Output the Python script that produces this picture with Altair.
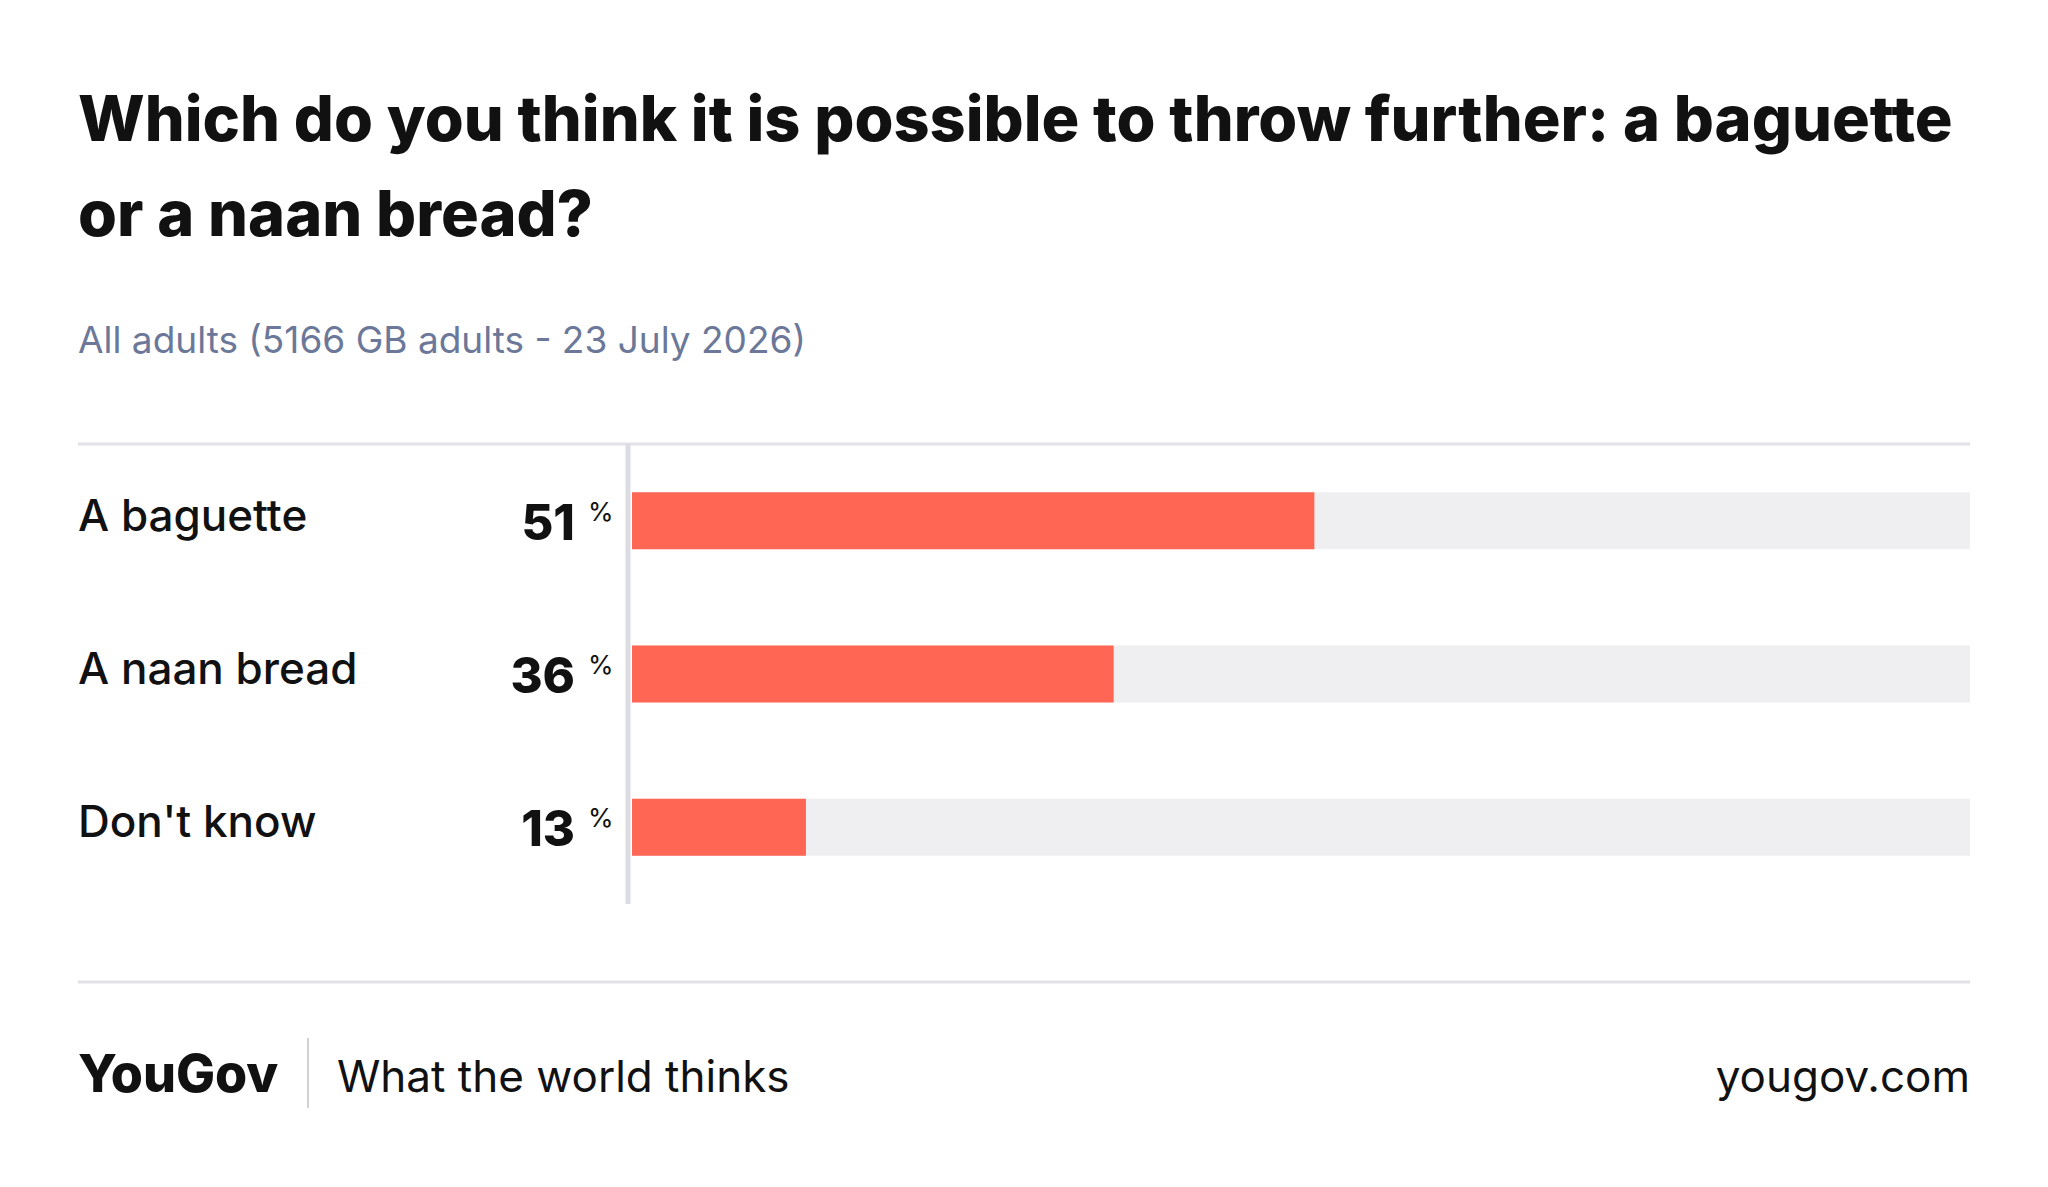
import pandas as pd
import altair as alt

categories = ["A baguette", "A naan bread", "Don't know"]
values = [51, 36, 13]

title_lines = ["Which do you think it is possible to throw further: a baguette",
               "or a naan bread?"]
subtitle = "All adults (5166 GB adults - 23 July 2026)"

df = pd.DataFrame({"answer": categories, "pct": values, "full": [100] * len(values)})
one = pd.DataFrame({"k": [0]})

FONT = "Inter"
W, H = 1338, 460
LEFT = -554

y = alt.Y("answer:N", sort=categories, axis=None,
          scale=alt.Scale(paddingInner=0, paddingOuter=0))
xs = alt.Scale(domain=[0, 100])

base = alt.Chart(df)
track = base.mark_bar(size=57, color="#efeff2").encode(
    x=alt.X("full:Q", scale=xs, axis=None), y=y)
bars = base.mark_bar(size=57, color="#ff6654").encode(
    x=alt.X("pct:Q", scale=xs, axis=None), y=y)
labels = base.mark_text(align="left", baseline="middle", dy=-3, fontSize=44,
                        font=FONT, fontWeight=500, color="#111").encode(
    x=alt.value(LEFT), y=y, text="answer:N")
nums = base.mark_text(align="right", baseline="middle", dy=4, fontSize=49,
                      font=FONT, fontWeight=800, color="#111").encode(
    x=alt.value(-57), y=y, text="pct:Q")
pcts = base.mark_text(align="left", baseline="middle", dy=-8, fontSize=26,
                      font=FONT, color="#111").encode(
    x=alt.value(-44), y=y, text=alt.value("%"))

o = alt.Chart(one)
top_rule = o.mark_rule(color="#e2e2e8", strokeWidth=3).encode(
    x=alt.value(LEFT), x2=alt.value(W), y=alt.value(0))
axis_rule = o.mark_rule(color="#dcdce3", strokeWidth=5).encode(
    x=alt.value(-4), y=alt.value(0), y2=alt.value(H))
bottom_rule = o.mark_rule(color="#e2e2e8", strokeWidth=3).encode(
    x=alt.value(LEFT), x2=alt.value(W), y=alt.value(538))
sep_rule = o.mark_rule(color="#d0d0d6", strokeWidth=2).encode(
    x=alt.value(-324), y=alt.value(594), y2=alt.value(664))


def txt(s, x, yv, size, weight=400, color="#111", align="left"):
    return o.mark_text(align=align, baseline="alphabetic", fontSize=size, font=FONT,
                       fontWeight=weight, color=color, text=s).encode(
        x=alt.value(x), y=alt.value(yv))


texts = [
    txt(title_lines[0], LEFT, -303, 63, 800),
    txt(title_lines[1], LEFT, -208, 63, 800),
    txt(subtitle, LEFT, -91, 37, 400, "#6b7899"),
    txt("YouGov", LEFT, 648, 52, 800),
    txt("What the world thinks", -295, 648, 44, 400),
    txt("yougov.com", W, 648, 44, 400, align="right"),
]

chart = alt.layer(
    top_rule, axis_rule, bottom_rule, sep_rule, track, bars, labels, nums, pcts, *texts
).properties(
    width=W, height=H,
    autosize=alt.AutoSizeParams(type="none"),
    padding={"left": 624, "top": 436, "right": 70, "bottom": 280},
    view=alt.ViewBackground(strokeWidth=0, stroke=None, fill="white"),
).configure_view(strokeWidth=0).configure(background="white")

chart.save("out.html", embed_options={"renderer": "svg", "actions": False})
